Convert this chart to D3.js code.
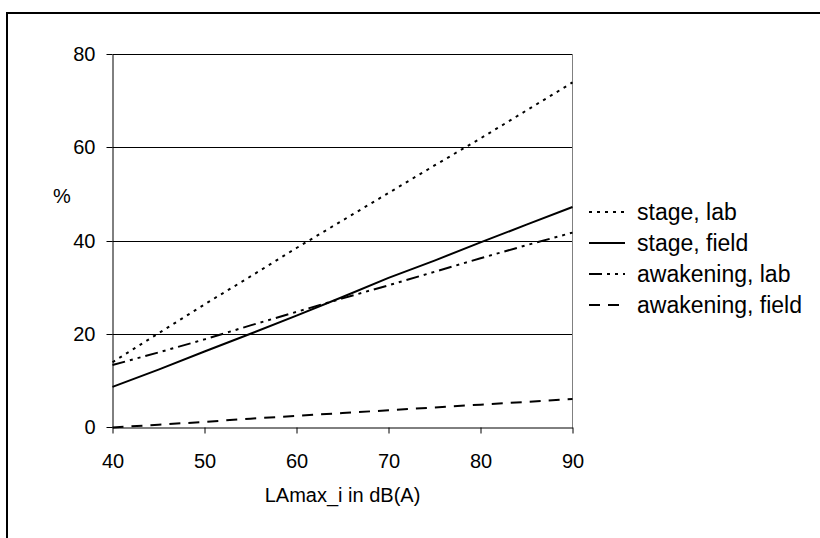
<!DOCTYPE html>
<meta charset="utf-8">
<style>
body{margin:0;background:#fff;}
svg text{font-family:"Liberation Sans",Arial,sans-serif;fill:#000;}
</style>
<svg id="chart" width="820" height="538"></svg>
<script src="https://d3js.org/d3.v7.min.js"></script>
<script>
// sound level steps (dB(A)) and the four curves read at each one
const levels = [40, 45, 50, 55, 60, 65, 70, 75, 80, 85, 90]
const stageLab = [14, 20.2, 26.4, 32.4, 38.5, 44.4, 50.3, 56.2, 62, 68, 74]
const stageField = [8.7, 12.4, 16.3, 20.1, 24, 28, 32.1, 35.8, 39.7, 43.5, 47.3]
const awakeLab = [13.4, 16.1, 18.9, 21.9, 24.8, 27.7, 30.5, 33.4, 36.3, 39.1, 41.8]
const awakeField = [0, 0.6, 1.2, 1.9, 2.5, 3.1, 3.7, 4.3, 4.9, 5.5, 6.1]

const xTicks = [40, 50, 60, 70, 80, 90]
const yTicks = [0, 20, 40, 60, 80]

const series = [
  {name: 'stage, lab', values: stageLab, dash: '3,5'},
  {name: 'stage, field', values: stageField, dash: null},
  {name: 'awakening, lab', values: awakeLab, dash: '13,5,3,5,3,5'},
  {name: 'awakening, field', values: awakeField, dash: '11,8'}
]

let svg = d3.select('#chart')

// outer frame, runs off the right and bottom edges
svg.append('rect')
  .attr('x', 7).attr('y', 13)
  .attr('width', 830).attr('height', 540)
  .attr('fill', 'none').attr('stroke', '#000').attr('stroke-width', 2)

let x = d3.scaleLinear().domain([40, 90]).range([112.5, 572.5])
let y = d3.scaleLinear().domain([0, 80]).range([427.5, 54.5])
let snap = v => Math.round(v - 0.5) + 0.5

// horizontal gridlines
svg.append('g').selectAll('line')
  .data(yTicks.filter(d => d > 0))
  .join('line')
  .attr('x1', x(40)).attr('x2', x(90))
  .attr('y1', d => snap(y(d))).attr('y2', d => snap(y(d)))
  .attr('stroke', '#000').attr('stroke-width', 1)

// right edge of the plot area
svg.append('line')
  .attr('x1', x(90)).attr('x2', x(90))
  .attr('y1', y(80)).attr('y2', y(0))
  .attr('stroke', '#808080').attr('stroke-width', 1)

let yAxis = svg.append('g')
  .attr('transform', `translate(${x(40)},0)`)
  .call(d3.axisLeft(y).tickValues(yTicks).tickSize(6).tickPadding(11).tickSizeOuter(0))
let xAxis = svg.append('g')
  .attr('transform', `translate(0,${y(0)})`)
  .call(d3.axisBottom(x).tickValues(xTicks).tickSize(6).tickPadding(20).tickSizeOuter(0))

for (let ax of [xAxis, yAxis]) {
  ax.select('.domain').attr('stroke', '#000').attr('stroke-width', 1)
  ax.selectAll('.tick line').attr('stroke', '#000').attr('stroke-width', 1)
  ax.selectAll('.tick text').style('font-size', '20px').attr('fill', '#000')
    .style('font-family', '"Liberation Sans",Arial,sans-serif')
}
yAxis.selectAll('.tick').attr('transform', d => `translate(0,${snap(y(d))})`)

// curves
let line = d3.line()
  .x((d, i) => x(levels[i]))
  .y(d => y(d))

svg.append('g').selectAll('path')
  .data(series)
  .join('path')
  .attr('d', s => line(s.values))
  .attr('fill', 'none')
  .attr('stroke', '#000')
  .attr('stroke-width', 2)
  .attr('stroke-dasharray', s => s.dash)

// axis titles
svg.append('text')
  .attr('x', 62).attr('y', 203)
  .attr('text-anchor', 'middle')
  .style('font-size', '20px')
  .text('%')
svg.append('text')
  .attr('x', (x(40) + x(90)) / 2).attr('y', 502)
  .attr('text-anchor', 'middle')
  .style('font-size', '20px')
  .text('LAmax_i in dB(A)')

// legend
let legend = svg.append('g').selectAll('g')
  .data(series)
  .join('g')
  .attr('transform', (d, i) => `translate(589,${212 + i * 31})`)
legend.append('line')
  .attr('x1', 0).attr('x2', 36)
  .attr('stroke', '#000').attr('stroke-width', 2)
  .attr('stroke-dasharray', s => s.dash)
legend.append('text')
  .attr('x', 48).attr('y', 8)
  .style('font-size', '23px')
  .text(s => s.name)
</script>
